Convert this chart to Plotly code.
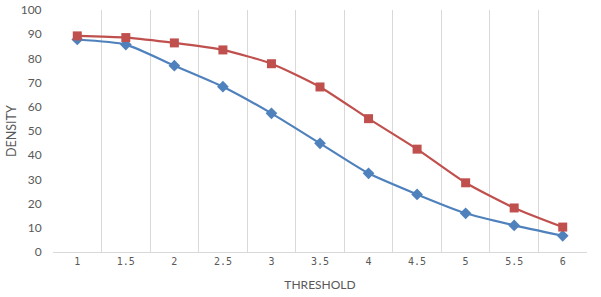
import plotly.graph_objects as go

categories = ["1", "1.5", "2", "2.5", "3", "3.5", "4", "4.5", "5", "5.5", "6"]
blue_values = [87.8, 85.7, 77.0, 68.3, 57.3, 44.9, 32.5, 23.8, 16.0, 11.0, 6.7]
red_values = [89.3, 88.6, 86.4, 83.5, 77.8, 68.2, 55.1, 42.5, 28.6, 18.2, 10.3]

fig = go.Figure()
fig.add_trace(go.Scatter(
    x=categories, y=blue_values, mode="lines+markers",
    line=dict(color="#4F81BD", width=2.2, shape="spline", smoothing=0.6),
    marker=dict(symbol="diamond", size=9, color="#4F81BD"),
    name="Series1", showlegend=False,
))
fig.add_trace(go.Scatter(
    x=categories, y=red_values, mode="lines+markers",
    line=dict(color="#C0504D", width=2.2, shape="spline", smoothing=0.6),
    marker=dict(symbol="square", size=9, color="#C0504D"),
    name="Series2", showlegend=False,
))

fig.update_layout(
    width=601, height=297,
    margin=dict(l=53, r=14, t=10, b=45, autoexpand=False),
    paper_bgcolor="white", plot_bgcolor="white",
    font=dict(family="Lato, Open Sans, sans-serif", color="#595959", size=11),
)
fig.update_xaxes(
    type="category", range=[-0.5, 10.5], automargin=False,
    tickson="boundaries", showgrid=True, gridcolor="#d9d9d9", gridwidth=1,
    showline=True, linecolor="#d9d9d9", linewidth=1,
    ticks="outside", ticklen=10, tickcolor="rgba(0,0,0,0)",
    tickfont=dict(family="DejaVu Sans Mono, monospace", size=10, color="#595959"),
    title=dict(text="THRESHOLD", font=dict(size=12, color="#595959"), standoff=14),
    zeroline=False,
)
fig.update_yaxes(
    range=[0, 100], dtick=10, showgrid=False, zeroline=False, showline=False,
    automargin=False,
    ticks="outside", ticklen=8, tickcolor="rgba(0,0,0,0)",
    tickfont=dict(size=12, color="#595959"),
)
fig.add_annotation(
    text="DENSITY", textangle=-90, showarrow=False,
    xref="paper", yref="paper", x=0, y=0.5, xanchor="center", yanchor="middle",
    xshift=-42, font=dict(size=12.5, color="#595959"),
)

fig.write_html("out.html", config={"displayModeBar": False},
               post_script="document.body.style.margin='0';")
